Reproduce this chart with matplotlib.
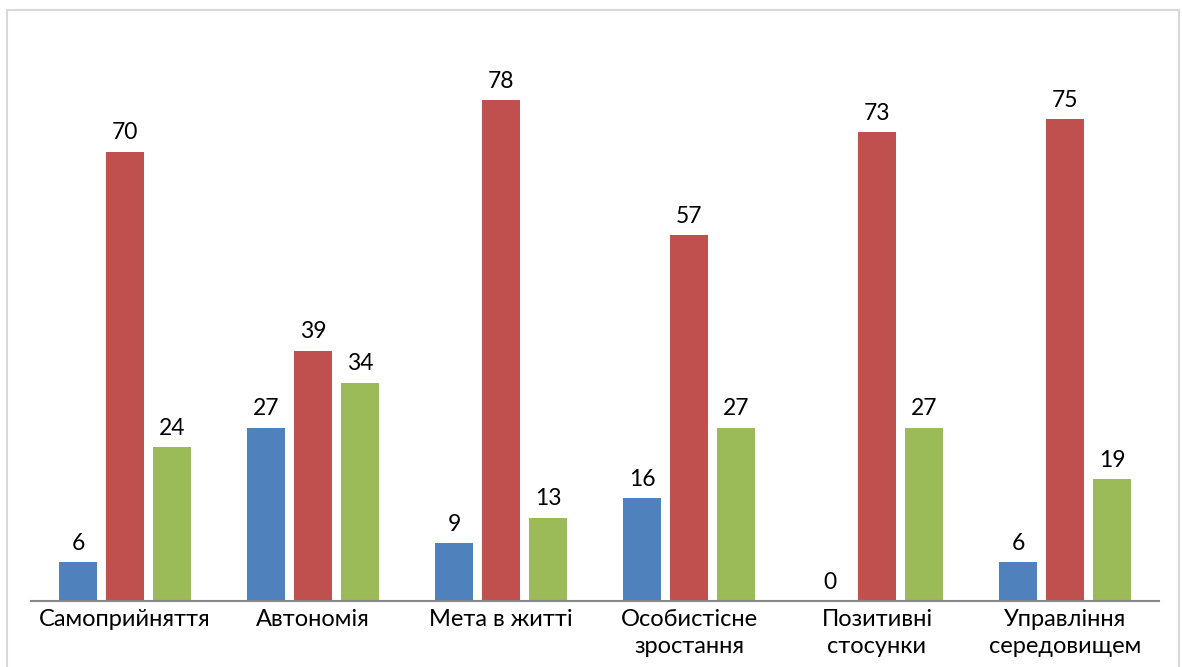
import matplotlib
matplotlib.use("Agg")
import matplotlib.pyplot as plt
from matplotlib.patches import Rectangle
import numpy as np

categories = ["Самоприйняття", "Автономія", "Мета в житті",
              "Особистісне\nзростання", "Позитивні\nстосунки", "Управління\nсередовищем"]
series_low = [6, 27, 9, 16, 0, 6]
series_mid = [70, 39, 78, 57, 73, 75]
series_high = [24, 34, 13, 27, 27, 19]

colors = ["#4F81BD", "#C0504D", "#9BBB59"]

plt.rcParams['font.family'] = ['Lato', 'DejaVu Sans']

W, H = 1182, 667
fig = plt.figure(figsize=(W / 100, H / 100), dpi=100)

# light frame around the chart area
fig.patches.append(Rectangle((7 / W, -0.05), (1179 - 7) / W, 1.05 - 10 / H,
                             transform=fig.transFigure, fill=False,
                             edgecolor="#d9d9d9", linewidth=1.5))

ax = fig.add_axes([31 / W, 66 / H, (1159 - 31) / W, 589 / H])
x = np.arange(len(categories))
width = 0.202
offset = 0.25

for i, (vals, c) in enumerate(zip([series_low, series_mid, series_high], colors)):
    pos = x + (i - 1) * offset
    ax.bar(pos, vals, width, color=c, edgecolor="none")
    for xp, v in zip(pos, vals):
        ax.annotate(str(v), (xp, v), xytext=(0, 6), textcoords="offset points",
                    ha="center", va="bottom", fontsize=16.5, color="#000000")

ax.set_xlim(-0.5, len(categories) - 0.5)
ax.set_ylim(0, 589 / 6.42)
ax.set_yticks([])
ax.set_xticks(x)
ax.set_xticklabels(categories, fontsize=17, linespacing=1.35)
ax.tick_params(axis="x", length=0, pad=6)
for s in ["top", "right", "left"]:
    ax.spines[s].set_visible(False)
ax.spines["bottom"].set_color("#868686")
ax.spines["bottom"].set_linewidth(1.5)

fig.savefig("out.png", dpi=100)
